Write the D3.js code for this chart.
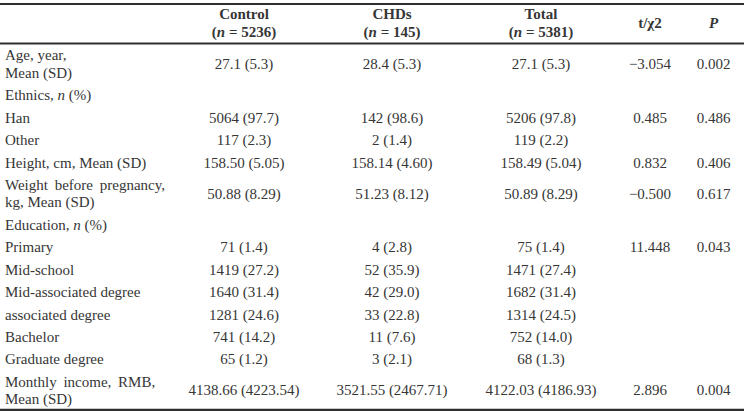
<!DOCTYPE html>
<html>
<head>
<meta charset="utf-8">
<script src="https://cdn.jsdelivr.net/npm/d3@7"></script>
<style>
  html, body { margin: 0; padding: 0; background: #fff; }
  svg { display: block; }
  text { font-family: "Liberation Serif", "Times New Roman", serif; fill: #363636; }
</style>
</head>
<body>
<svg id="chart" width="753" height="411"></svg>
<script>
// ---- data ----
const columns = ["Control", "CHDs", "Total", "t/χ2", "P"];
const columnN = ["5236", "145", "5381", "", ""];
const rowLabels = [
  ["Age, year,", "Mean (SD)"],
  ["Ethnics, *n* (%)"],
  ["Han"],
  ["Other"],
  ["Height, cm, Mean (SD)"],
  ["Weight before pregnancy,", "kg, Mean (SD)"],
  ["Education, *n* (%)"],
  ["Primary"],
  ["Mid-school"],
  ["Mid-associated degree"],
  ["associated degree"],
  ["Bachelor"],
  ["Graduate degree"],
  ["Monthly income, RMB,", "Mean (SD)"]
];
const controlValues = ["27.1 (5.3)", "", "5064 (97.7)", "117 (2.3)", "158.50 (5.05)", "50.88 (8.29)", "", "71 (1.4)", "1419 (27.2)", "1640 (31.4)", "1281 (24.6)", "741 (14.2)", "65 (1.2)", "4138.66 (4223.54)"];
const chdsValues = ["28.4 (5.3)", "", "142 (98.6)", "2 (1.4)", "158.14 (4.60)", "51.23 (8.12)", "", "4 (2.8)", "52 (35.9)", "42 (29.0)", "33 (22.8)", "11 (7.6)", "3 (2.1)", "3521.55 (2467.71)"];
const totalValues = ["27.1 (5.3)", "", "5206 (97.8)", "119 (2.2)", "158.49 (5.04)", "50.89 (8.29)", "", "75 (1.4)", "1471 (27.4)", "1682 (31.4)", "1314 (24.5)", "752 (14.0)", "68 (1.3)", "4122.03 (4186.93)"];
const statValues = ["−3.054", "", "0.485", "", "0.832", "−0.500", "", "11.448", "", "", "", "", "", "2.896"];
const pValues = ["0.002", "", "0.486", "", "0.406", "0.617", "", "0.043", "", "", "", "", "", "0.004"];

// ---- layout ----
const svg = d3.select("#chart");
const fontSize = 15;
const ruleLeft = 0, ruleRight = 744;
const topRule = 4, headRule = 43.5;
const labelX = 5;
const lineGap = 17.5;
const singleH = 22.4, doubleH = 40;
const firstBaseline = 16.3;

const xCol = d3.scaleOrdinal().domain(columns).range([244, 392, 541, 650, 713.5]);

// row positions (cumulative heights)
const heights = rowLabels.map(l => l.length > 1 ? doubleH : singleH);
const tops = [];
heights.reduce((acc, h, i) => { tops[i] = acc; return acc + h; }, 0);
const totalH = d3.sum(heights);
const yRow = d3.scaleLinear().domain([0, totalH]).range([headRule + 0.5, headRule + 0.5 + totalH]);

// rules
const bottomRule = yRow(totalH) - 0.6;
svg.selectAll("line.rule").data([topRule, headRule, bottomRule]).join("line")
  .attr("class", "rule")
  .attr("x1", ruleLeft).attr("x2", ruleRight)
  .attr("y1", d => d).attr("y2", d => d)
  .attr("stroke", "#2e2e2e").attr("stroke-width", 2.2);

// header
const head = svg.append("g").attr("font-weight", "bold").attr("font-size", fontSize);
columns.forEach((c, i) => {
  const x = xCol(c);
  if (columnN[i]) {
    head.append("text").attr("x", x).attr("y", 19).attr("text-anchor", "middle").text(c);
    const t = head.append("text").attr("x", x).attr("y", 36.7).attr("text-anchor", "middle");
    t.append("tspan").text("(");
    t.append("tspan").attr("font-style", "italic").text("n");
    t.append("tspan").text(" = " + columnN[i] + ")");
  } else {
    head.append("text").attr("x", x).attr("y", 28).attr("text-anchor", "middle")
      .attr("font-style", c === "P" ? "italic" : null).text(c);
  }
});

// body
const body = svg.append("g").attr("font-size", fontSize);
function addRich(sel, str) {
  str.split("*").forEach((part, k) => {
    if (!part) return;
    sel.append("tspan").attr("font-style", k % 2 ? "italic" : null).text(part);
  });
}
const valueCols = [controlValues, chdsValues, totalValues, statValues, pValues];
rowLabels.forEach((lines, i) => {
  const top = yRow(tops[i]);
  lines.forEach((ln, j) => {
    const y = top + firstBaseline + j * lineGap;
    const t = body.append("text").attr("x", labelX).attr("y", y);
    addRich(t, ln);
    // justified wrapped first lines get extra word spacing
    if (lines.length > 1 && j === 0 && ln.length > 15) t.attr("word-spacing", 3);
  });
  const valueY = top + firstBaseline + (lines.length - 1) * lineGap / 2;
  valueCols.forEach((vals, c) => {
    if (!vals[i]) return;
    body.append("text").attr("x", xCol(columns[c])).attr("y", valueY)
      .attr("text-anchor", "middle").text(vals[i]);
  });
});
</script>
</body>
</html>
